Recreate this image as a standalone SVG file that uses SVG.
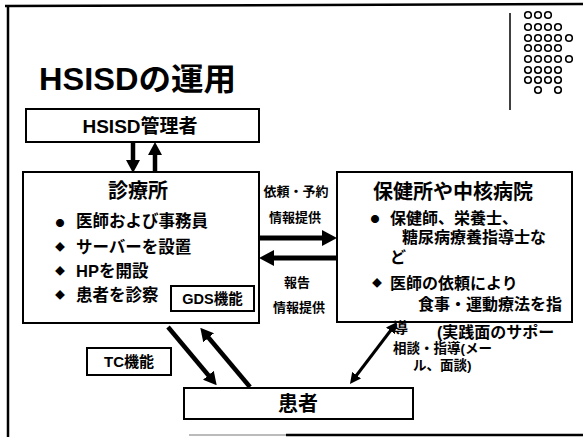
<svg xmlns="http://www.w3.org/2000/svg" width="583" height="437" viewBox="0 0 583 437">
<style>
text{font-family:"Liberation Sans","Noto Sans CJK JP",sans-serif;font-weight:bold;fill:#000}
.bul{font-family:"Noto Sans CJK JP",sans-serif}
.box{fill:#fff;stroke:#000;stroke-width:2}
.frame{stroke:#000;stroke-width:2.5;fill:none}
.thick{stroke:#000;stroke-width:5;fill:none}
.mid{stroke:#000;stroke-width:4.5;fill:none}
.thin{stroke:#000;stroke-width:3;fill:none}
.dot{fill:#fff;stroke:#000;stroke-width:1.6}
</style>
<defs>
<marker id="hBig" viewBox="0 0 15 16" refX="1" refY="8" markerWidth="15" markerHeight="16" markerUnits="userSpaceOnUse" orient="auto"><path d="M0,0 L15,8 L0,16 z" fill="#000"/></marker>
<marker id="hMid" viewBox="0 0 13 14" refX="1" refY="7" markerWidth="13" markerHeight="14" markerUnits="userSpaceOnUse" orient="auto"><path d="M0,0 L13,7 L0,14 z" fill="#000"/></marker>
<marker id="hSm" viewBox="0 0 11 11" refX="1" refY="5.5" markerWidth="11" markerHeight="11" markerUnits="userSpaceOnUse" orient="auto-start-reverse"><path d="M0,0 L11,5.5 L0,11 z" fill="#000"/></marker>
</defs>
<rect width="583" height="437" fill="#fff"/>
<g id="frame">
<path class="frame" d="M5,6 L583,4"/>
<path class="frame" d="M8,6 L8,437"/>
<path d="M189,435 L286,435" stroke="#bbb" stroke-width="2"/>
<path d="M286,435 L583,435" stroke="#000" stroke-width="2.5"/>
</g>
<g id="title"><text x="39" y="90" font-size="31" textLength="197" lengthAdjust="spacingAndGlyphs">HSISDの運用</text></g>
<g id="logo">
<path d="M510,13 L510,110" stroke="#000" stroke-width="1.5"/>
<g class="dot">
<circle cx="528" cy="15" r="3.3"/><circle cx="538" cy="15" r="3.3"/><circle cx="548" cy="15" r="3.3"/>
<circle cx="528" cy="27" r="3.3"/><circle cx="538" cy="27" r="3.3"/><circle cx="548" cy="27" r="3.3"/><circle cx="558" cy="27" r="3.3"/>
<circle cx="528" cy="38" r="3.3"/><circle cx="538" cy="38" r="3.3"/><circle cx="548" cy="38" r="3.3"/><circle cx="558" cy="38" r="3.3"/><circle cx="569" cy="38" r="3.3"/>
<circle cx="528" cy="48" r="3.3"/><circle cx="538" cy="48" r="3.3"/><circle cx="548" cy="48" r="3.3"/><circle cx="558" cy="48" r="3.3"/>
<circle cx="528" cy="59" r="3.3"/><circle cx="538" cy="59" r="3.3"/><circle cx="548" cy="59" r="3.3"/><circle cx="558" cy="59" r="3.3"/><circle cx="569" cy="59" r="3.3"/>
<circle cx="528" cy="70" r="3.3"/><circle cx="538" cy="70" r="3.3"/><circle cx="548" cy="70" r="3.3"/><circle cx="558" cy="70" r="3.3"/>
<circle cx="528" cy="80" r="3.3"/><circle cx="538" cy="80" r="3.3"/><circle cx="548" cy="80" r="3.3"/><circle cx="558" cy="80" r="3.3"/>
<circle cx="538" cy="90" r="3.3"/><circle cx="558" cy="90" r="3.3"/>
</g>
</g>
<g id="admin">
<rect class="box" x="26" y="109" width="233" height="33"/>
<text x="140" y="133" font-size="19" text-anchor="middle">HSISD管理者</text>
</g>
<g id="clinic">
<rect class="box" x="23" y="172" width="236" height="151"/>
<text x="138" y="198" font-size="20" text-anchor="middle">診療所</text>
<text class="bul" x="60" y="226" font-size="9" text-anchor="middle">●</text>
<text x="76" y="227" font-size="16.5">医師および事務員</text>
<text class="bul" x="60" y="251" font-size="10" text-anchor="middle">◆</text>
<text x="76" y="253" font-size="16.5">サーバーを設置</text>
<text class="bul" x="60" y="275" font-size="10" text-anchor="middle">◆</text>
<text x="76" y="277" font-size="16.5">HPを開設</text>
<text class="bul" x="60" y="299" font-size="10" text-anchor="middle">◆</text>
<text x="76" y="301" font-size="16.5">患者を診察</text>
</g>
<g id="gds">
<rect class="box" x="171" y="286" width="83" height="25"/>
<text x="212.5" y="304" font-size="14.5" text-anchor="middle">GDS機能</text>
</g>
<g id="hospital">
<rect class="box" x="337" y="172" width="235" height="150"/>
<text x="453" y="199" font-size="20" text-anchor="middle">保健所や中核病院</text>
<text class="bul" x="375" y="222" font-size="9" text-anchor="middle">●</text>
<text x="390" y="224" font-size="16">保健師、栄養士、</text>
<text x="402" y="243" font-size="16">糖尿病療養指導士な</text>
<text x="390" y="263" font-size="16">ど</text>
<text class="bul" x="377" y="287" font-size="10" text-anchor="middle">◆</text>
<text x="390" y="289" font-size="16">医師の依頼により</text>
<text x="418" y="310" font-size="16">食事・運動療法を指</text>
<text x="393" y="333" font-size="15">導</text>
<text x="437" y="338" font-size="16">(実践面のサポー</text>
</g>
<g id="tc">
<rect class="box" x="87" y="348" width="84" height="27"/>
<text x="129" y="367" font-size="15" text-anchor="middle">TC機能</text>
</g>
<g id="patient">
<rect class="box" x="184" y="388" width="229" height="31"/>
<text x="298" y="411" font-size="20" text-anchor="middle">患者</text>
</g>
<g id="connectors">
<path class="mid" d="M133,142 L133,161" marker-end="url(#hMid)"/>
<path class="mid" d="M155,172 L155,154" marker-end="url(#hMid)"/>
<path class="thick" d="M259,238 L323,238" marker-end="url(#hBig)"/>
<path class="thick" d="M337,258 L273,258" marker-end="url(#hBig)"/>
<path class="mid" d="M168,327 L209,376" marker-end="url(#hMid)"/>
<path class="mid" d="M250,387 L208,337" marker-end="url(#hMid)"/>
<path class="thin" d="M391,330 L356,376" marker-start="url(#hSm)" marker-end="url(#hSm)"/>
</g>
<g id="labels">
<text x="296" y="196" font-size="13" text-anchor="middle">依頼・予約</text>
<text x="295" y="222" font-size="13" text-anchor="middle">情報提供</text>
<text x="297" y="287" font-size="13" text-anchor="middle">報告</text>
<text x="299" y="312" font-size="13" text-anchor="middle">情報提供</text>
<text x="393" y="353" font-size="13.5">相談・指導(メー</text>
<text x="413" y="370" font-size="13.5">ル、面談)</text>
</g>
</svg>
